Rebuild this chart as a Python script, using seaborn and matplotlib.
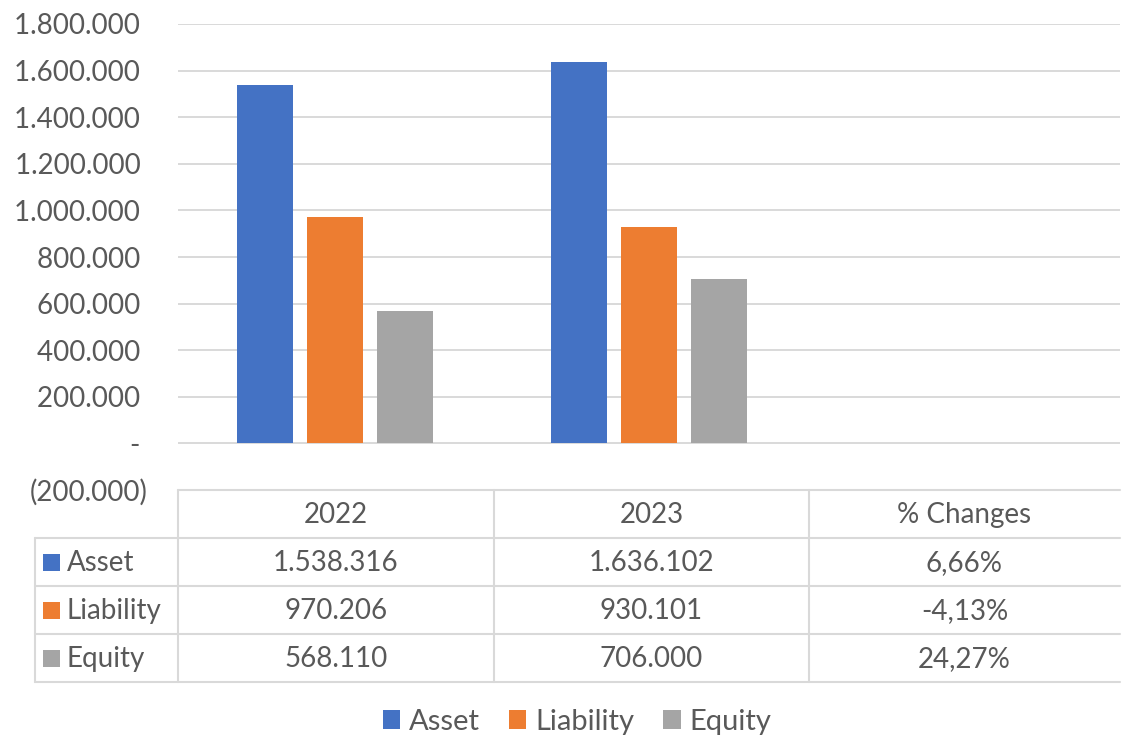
import numpy as np
import pandas as pd
import matplotlib
matplotlib.use("Agg")
import matplotlib.pyplot as plt
from matplotlib.patches import Rectangle
import seaborn as sns

# data
periods = ["2022", "2023", "% Changes"]
items = ["Asset", "Liability", "Equity"]
val_2022 = [1538316, 970206, 568110]
val_2023 = [1636102, 930101, 706000]
pct_change = [6.66, -4.13, 24.27]
colors = ["#4472C4", "#ED7D31", "#A5A5A5"]

grey_txt = "#595959"
grid_col = "#D9D9D9"

sns.set_theme(style="white")
plt.rcParams["font.family"] = ["Lato", "DejaVu Sans"]

rows = []
for i, it in enumerate(items):
    rows.append({"period": periods[0], "item": it, "value": val_2022[i]})
    rows.append({"period": periods[1], "item": it, "value": val_2023[i]})
    rows.append({"period": periods[2], "item": it, "value": pct_change[i] / 100})
df = pd.DataFrame(rows)

W, H = 1122, 738
fig = plt.figure(figsize=(W / 100, H / 100), dpi=100)
ax = fig.add_axes([178 / W, (H - 490) / H, 942 / W, 466 / H])

sns.barplot(data=df, x="period", y="value", hue="item", order=periods,
            hue_order=items, palette=colors, saturation=1, width=0.67,
            gap=0.21, linewidth=0, ax=ax)
handles, labels = ax.get_legend_handles_labels()
ax.get_legend().remove()

ax.set_xlim(-0.5, 2.5)
ax.set_ylim(-200000, 1800000)
ax.set_yticks(np.arange(-200000, 1800001, 200000))


def fmt(v):
    if v == 0:
        return "- "
    s = f"{abs(int(v)):,}".replace(",", ".")
    return f"({s})" if v < 0 else s + " "


ax.set_yticklabels([fmt(v) for v in ax.get_yticks()])
ax.tick_params(axis="y", length=0, pad=22, labelsize=20, labelcolor=grey_txt)
ax.set_xticks([])
ax.set_xlabel("")
ax.set_ylabel("")
ax.grid(axis="y", color=grid_col, lw=1.4)
ax.set_axisbelow(True)
for s in ax.spines.values():
    s.set_visible(False)

# data table under the chart
tb = fig.add_axes([0, 0, 1, 1], facecolor="none")
tb.set_xlim(0, W)
tb.set_ylim(H, 0)
tb.axis("off")
col_x = [35, 178, 494, 809, 1120]
row_y = [490, 538, 586, 634, 682]
lk = dict(color=grid_col, lw=1.5)
tb.plot([178, 1120], [490, 490], **lk)
for y in row_y[1:]:
    tb.plot([35, 1120], [y, y], **lk)
tb.plot([35, 35], [538, 682], **lk)
for x in col_x[1:4]:
    tb.plot([x, x], [490, 682], **lk)

cell_vals = [
    [fmt(val_2022[i]).strip() for i in range(3)],
    [fmt(val_2023[i]).strip() for i in range(3)],
    [f"{p:.2f}%".replace(".", ",") for p in pct_change],
]
for c in range(3):
    cx = (col_x[c + 1] + col_x[c + 2]) / 2
    tb.text(cx, 515, periods[c], ha="center", va="center", fontsize=20, color=grey_txt)
    for r in range(3):
        cy = (row_y[r + 1] + row_y[r + 2]) / 2 + 1
        tb.text(cx, cy, cell_vals[c][r], ha="center", va="center", fontsize=20, color=grey_txt)
for r in range(3):
    cy = (row_y[r + 1] + row_y[r + 2]) / 2
    tb.add_patch(Rectangle((43, cy - 8.5), 17, 17, color=colors[r], lw=0))
    tb.text(67, cy + 1, items[r], ha="left", va="center", fontsize=20, color=grey_txt)

fig.legend(handles, labels, loc="center", bbox_to_anchor=(577 / W, 16 / H), ncol=3,
           frameon=False, fontsize=21, labelcolor=grey_txt, handlelength=0.6,
           handleheight=0.6, handletextpad=0.3, columnspacing=1.0)

fig.savefig("out.png", dpi=100)
